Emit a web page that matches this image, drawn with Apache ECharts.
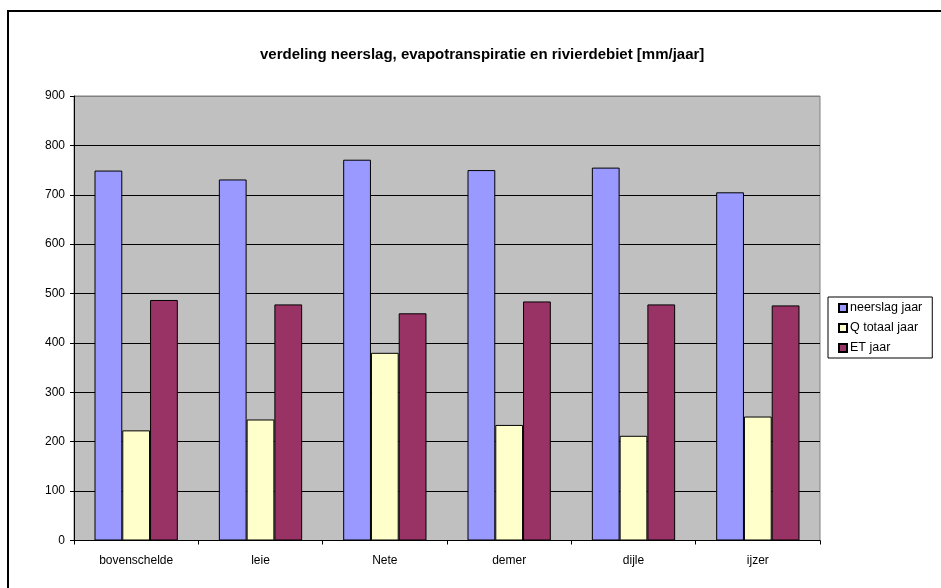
<!DOCTYPE html>
<html>
<head>
<meta charset="utf-8">
<script src="https://cdn.jsdelivr.net/npm/echarts@6/dist/echarts.min.js"></script>
<style>
html,body{margin:0;padding:0;background:#fff;}
#chart{width:941px;height:588px;}
</style>
</head>
<body>
<div id="chart"></div>
<script>
const categories = ['bovenschelde', 'leie', 'Nete', 'demer', 'dijle', 'ijzer'];
const neerslagJaar = [749, 731, 771, 750, 755, 705];
const qTotaalJaar = [223, 245, 380, 234, 212, 251];
const etJaar = [487, 478, 460, 484, 478, 476];
const seriesNames = ['neerslag jaar', 'Q totaal jaar', 'ET jaar'];
const titleText = 'verdeling neerslag, evapotranspiratie en rivierdebiet [mm/jaar]';

const FONT = 'Liberation Sans, Arial, sans-serif';
const chart = echarts.init(document.getElementById('chart'), null, {renderer: 'canvas'});
const colors = ['#9999FF', '#FFFFCC', '#993366'];
const dataSets = [neerslagJaar, qTotaalJaar, etJaar];

chart.setOption({
  animation: false,
  backgroundColor: '#ffffff',
  graphic: [{
    type: 'rect',
    silent: true,
    shape: {x: 8, y: 11, width: 1200, height: 1200},
    style: {fill: 'none', stroke: '#000', lineWidth: 2}
  }],
  title: {
    text: titleText,
    left: 260,
    top: 47,
    padding: 0,
    textStyle: {fontFamily: FONT, fontSize: 15, fontWeight: 'bold', color: '#000'}
  },
  legend: {
    orient: 'vertical',
    left: 828,
    top: 297,
    padding: [4, 10, 3, 10],
    itemWidth: 8,
    itemHeight: 8,
    itemGap: 6,
    borderColor: '#000',
    borderWidth: 1,
    icon: 'rect',
    textStyle: {fontFamily: FONT, fontSize: 12.5, color: '#000', lineHeight: 14, padding: [0, 0, 0, -2]},
    data: seriesNames
  },
  grid: {
    left: 74,
    right: 121,
    top: 96,
    bottom: 47.5,
    show: true,
    backgroundColor: '#C0C0C0',
    borderColor: '#808080',
    borderWidth: 1,
    containLabel: false
  },
  xAxis: {
    type: 'category',
    data: categories,
    axisLine: {show: true, lineStyle: {color: '#000', width: 1}},
    axisTick: {show: true, length: 4, inside: false, lineStyle: {color: '#000'}},
    axisLabel: {fontFamily: FONT, fontSize: 12, color: '#000', margin: 14}
  },
  yAxis: {
    type: 'value',
    min: 0,
    max: 900,
    interval: 100,
    axisLine: {show: true, lineStyle: {color: '#000', width: 1}},
    axisTick: {show: true, length: 4, inside: false, lineStyle: {color: '#000'}},
    axisLabel: {fontFamily: FONT, fontSize: 12, color: '#000', margin: 9},
    splitLine: {show: true, lineStyle: {
      color: ['#000', '#000', '#000', '#000', '#000', '#000', '#000', '#000', '#000', '#808080'],
      width: 1
    }}
  },
  series: seriesNames.map((name, i) => ({
    name: name,
    type: 'bar',
    data: dataSets[i],
    barGap: '0%',
    barCategoryGap: '33%',
    itemStyle: {color: colors[i], borderColor: '#000', borderWidth: 1}
  }))
});
</script>
</body>
</html>
